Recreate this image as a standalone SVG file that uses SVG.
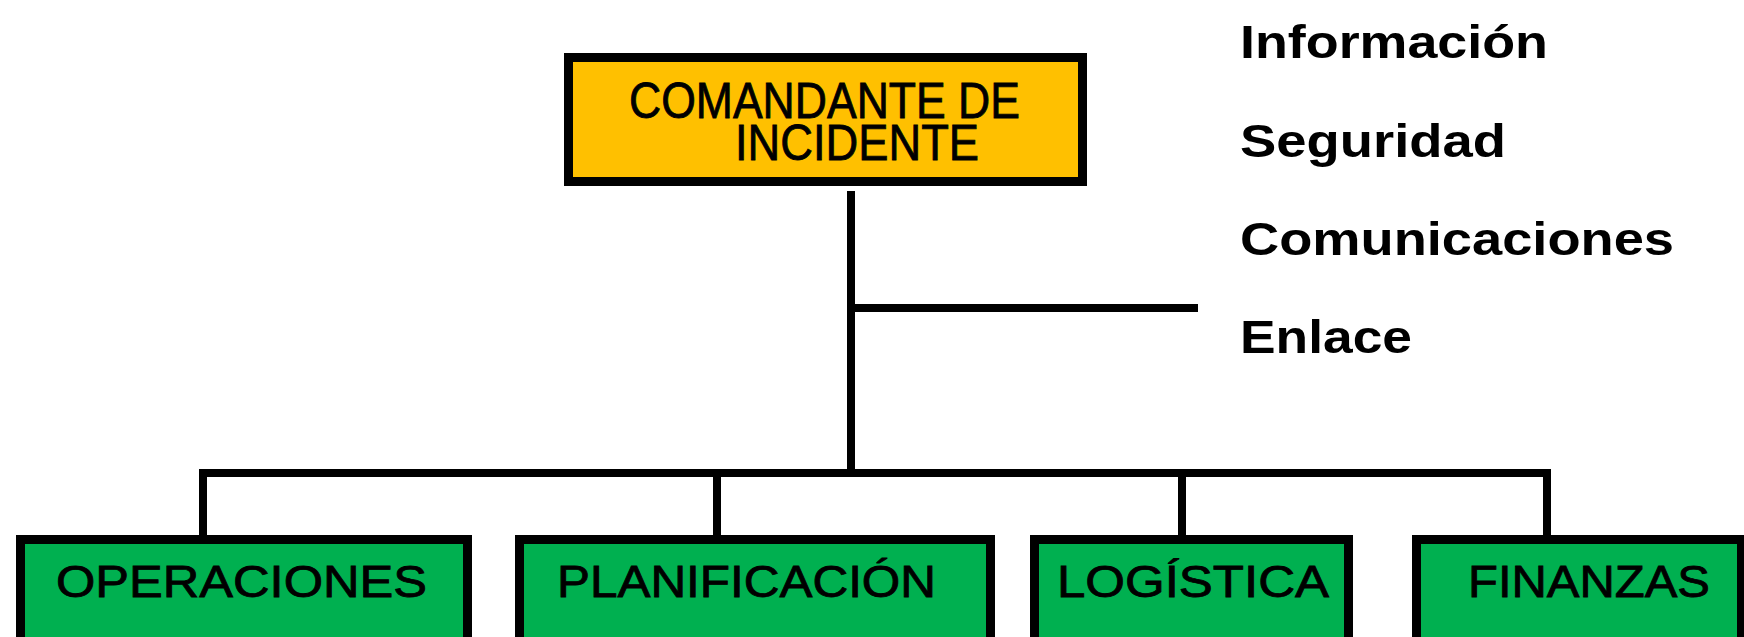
<svg xmlns="http://www.w3.org/2000/svg" width="1744" height="637" viewBox="0 0 1744 637">
  <style>
    .bg { fill: #ffffff; }
    .cmd { fill: #FFC000; stroke: #000000; stroke-width: 9; }
    .sec { fill: #00B050; stroke: #000000; stroke-width: 9; }
    .conn { fill: none; stroke: #000000; stroke-width: 8; stroke-linejoin: miter; stroke-linecap: butt; }
    .t { font-family: "Liberation Sans", Arial, sans-serif; fill: #000000; }
    .top { font-size: 50px; stroke: #000000; stroke-width: 0.8; }
    .sect { font-size: 44px; stroke: #000000; stroke-width: 0.8; }
    .side { font-size: 47px; font-weight: bold; }
  </style>
  <rect class="bg" x="0" y="0" width="1744" height="637"/>

  <g id="connectors">
    <path class="conn" d="M851,191 V473"/>
    <path class="conn" d="M851,308 H1198"/>
    <path class="conn" d="M203,535 V473 H1547 V535"/>
    <path class="conn" d="M717,473 V535"/>
    <path class="conn" d="M1182,473 V535"/>
  </g>

  <g id="comandante">
    <rect class="cmd" x="568.5" y="57.5" width="514" height="124"/>
    <text class="t top" x="629" y="118" textLength="391" lengthAdjust="spacingAndGlyphs">COMANDANTE DE</text>
    <text class="t top" x="735" y="160" textLength="244" lengthAdjust="spacingAndGlyphs">INCIDENTE</text>
  </g>

  <g id="staff">
    <text class="t side" x="1240" y="58" textLength="308" lengthAdjust="spacingAndGlyphs">Información</text>
    <text class="t side" x="1240" y="157" textLength="266" lengthAdjust="spacingAndGlyphs">Seguridad</text>
    <text class="t side" x="1240" y="255" textLength="434" lengthAdjust="spacingAndGlyphs">Comunicaciones</text>
    <text class="t side" x="1240" y="353" textLength="172" lengthAdjust="spacingAndGlyphs">Enlace</text>
  </g>

  <g id="operaciones">
    <rect class="sec" x="20.5" y="539.5" width="447" height="130"/>
    <text class="t sect" x="56" y="597" textLength="371" lengthAdjust="spacingAndGlyphs">OPERACIONES</text>
  </g>
  <g id="planificacion">
    <rect class="sec" x="519.5" y="539.5" width="471" height="130"/>
    <text class="t sect" x="557" y="597" textLength="379" lengthAdjust="spacingAndGlyphs">PLANIFICACIÓN</text>
  </g>
  <g id="logistica">
    <rect class="sec" x="1034.5" y="539.5" width="314" height="130"/>
    <text class="t sect" x="1057" y="597" textLength="272" lengthAdjust="spacingAndGlyphs">LOGÍSTICA</text>
  </g>
  <g id="finanzas">
    <rect class="sec" x="1416.5" y="539.5" width="325" height="130"/>
    <text class="t sect" x="1468" y="597" textLength="242" lengthAdjust="spacingAndGlyphs">FINANZAS</text>
  </g>
</svg>
